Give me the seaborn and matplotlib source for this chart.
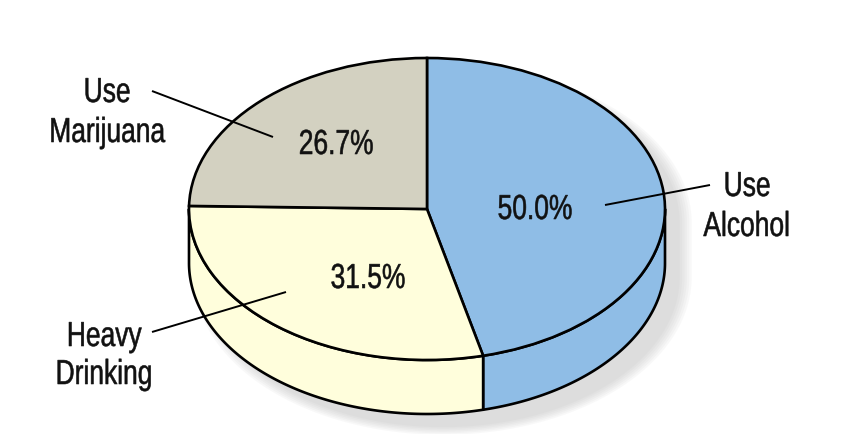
import numpy as np
import matplotlib
matplotlib.use("Agg")
import matplotlib.pyplot as plt
import seaborn as sns
from matplotlib.patches import Polygon
from matplotlib.patheffects import AbstractPathEffect
from matplotlib.transforms import Affine2D

# ---- data ----
categories = ["Use Alcohol", "Heavy Drinking", "Use Marijuana"]
values = [50.0, 31.5, 26.7]
label_lines = [["Use", "Alcohol"], ["Heavy", "Drinking"], ["Use", "Marijuana"]]
colors = ["#8FBDE6", "#FFFEDC", "#D3D1C1"]

# ---- layout (pixels in an 860x435 canvas) ----
W, H = 860, 435
CX, CY = 427, 210      # centre of top face
A, B = 238, 151        # semi axes of top ellipse
DEPTH = 54 / B         # side wall depth (data units)

pct_pos = [(535, 220), (368, 289), (336, 155)]            # baseline positions
label_pos = [(747, [197, 237]), (104, [347, 385]), (107, [103, 143])]
callouts = [((605, 206), (710, 186)), ((286, 293), (152, 333)), ((273, 138), (152, 92))]

sns.set_theme(style="white")
plt.rcParams["font.family"] = ["Liberation Sans", "DejaVu Sans"]


class Condense(AbstractPathEffect):
    """Draw text horizontally condensed (like a narrow font face), slightly heavier."""
    def __init__(self, sx=0.76, stroke=0.4):
        super().__init__()
        self.sx = sx
        self.stroke = stroke

    def draw_path(self, renderer, gc, tpath, affine, rgbFace=None):
        verts = tpath.vertices
        if tpath.codes is not None:
            verts = verts[tpath.codes != 79]
        if len(verts):
            v = affine.transform(verts)
            x0 = 0.5 * (v[:, 0].min() + v[:, 0].max())
        else:
            x0 = 0
        new = affine + Affine2D().translate(-x0, 0).scale(self.sx, 1).translate(x0, 0)
        gc0 = renderer.new_gc()
        gc0.copy_properties(gc)
        gc0.set_linewidth(self.stroke)
        if rgbFace is not None:
            gc0.set_foreground(rgbFace)
        gc0.set_joinstyle("round")
        renderer.draw_path(gc0, tpath, new, rgbFace)
        gc0.restore()


def P(px, py):
    return ((px - CX) / A, (CY - py) / B)


fig = plt.figure(figsize=(8.6, 4.35), dpi=100)
ax = fig.add_axes([0, 0, 1, 1])

wedges, _ = ax.pie(values, colors=colors, startangle=90, counterclock=False,
                   radius=1, center=(0, 0), frame=False,
                   wedgeprops=dict(edgecolor="black", linewidth=1.9, zorder=4))
ax.set_aspect("auto")
ax.set_xlim(-CX / A, (W - CX) / A)
ax.set_ylim(-(H - CY) / B, CY / B)
ax.axis("off")

# ---- soft shadow ----
sdx, sdy = 16 / A, -14 / B
for s in [1.045, 1.035, 1.025, 1.015, 1.005, 0.995]:
    th_up = np.linspace(0, np.pi, 120)
    th_lo = np.linspace(np.pi, 2 * np.pi, 120)
    xs = np.concatenate([s * np.cos(th_up), s * np.cos(th_lo)]) + sdx
    ys = np.concatenate([s * np.sin(th_up), s * np.sin(th_lo) - DEPTH]) + sdy
    ax.add_patch(Polygon(np.column_stack([xs, ys]), closed=True,
                         facecolor="#a8a8a8", edgecolor="none", alpha=0.07, zorder=1))

# ---- side walls (visible front half) ----
for w, c in zip(wedges, colors):
    t1, t2 = w.theta1, w.theta2
    for k in range(-2, 2):
        lo = max(t1, -180 + 360 * k)
        hi = min(t2, 0 + 360 * k)
        if hi - lo <= 0.01:
            continue
        th = np.radians(np.linspace(lo, hi, 150))
        top = np.column_stack([np.cos(th), np.sin(th)])
        bot = np.column_stack([np.cos(th), np.sin(th) - DEPTH])[::-1]
        ax.add_patch(Polygon(np.vstack([top, bot]), closed=True, facecolor=c,
                             edgecolor="black", linewidth=1.9, joinstyle="round", zorder=3))

pe = [Condense(0.76, 0.4)]

# ---- percentage texts ----
for v, (px, py) in zip(values, pct_pos):
    x, y = P(px, py)
    ax.text(x, y, f"{v:.1f}%", ha="center", va="baseline", fontsize=25,
            color="#111111", zorder=6, path_effects=pe)

# ---- category labels ----
for lines, (px, pys) in zip(label_lines, label_pos):
    for line, py in zip(lines, pys):
        x, y = P(px, py)
        ax.text(x, y, line, ha="center", va="baseline", fontsize=25,
                color="#111111", zorder=6, path_effects=pe)

# ---- callout lines ----
for (p0, p1) in callouts:
    x0, y0 = P(*p0)
    x1, y1 = P(*p1)
    ax.plot([x0, x1], [y0, y1], color="black", linewidth=1.4, zorder=7,
            solid_capstyle="butt")

fig.savefig("out.png", dpi=100, facecolor="white")
